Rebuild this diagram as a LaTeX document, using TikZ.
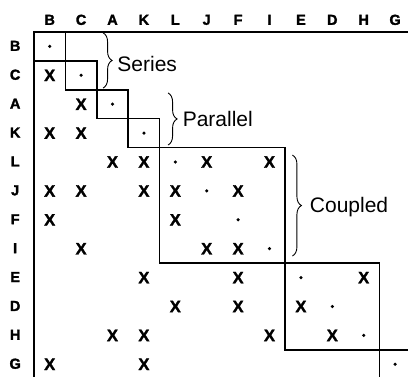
\documentclass[tikz,border=0pt]{standalone}
\usepackage{fontspec}
\setmainfont{Liberation Sans}
\newfontfamily\heavyfont[BoldFont={Liberation Sans Bold}, BoldFeatures={FakeBold=1.8}]{Liberation Sans}
\usetikzlibrary{decorations.pathreplacing}

\begin{document}
\begin{tikzpicture}[x=31.4pt, y=28.9pt,
    hdr/.style={font=\heavyfont\fontsize{14.5}{16}\selectfont\bfseries, inner sep=0pt},
    xmark/.style={font=\heavyfont\fontsize{16.5}{18}\selectfont\bfseries, inner sep=0pt},
    diagdot/.style={circle, fill=black, inner sep=0pt, minimum size=3.5pt},
    blk/.style={line width=1.6pt},
    tag/.style={font=\fontsize{21}{25}\selectfont, anchor=west, inner sep=1pt},
    brace/.style={decorate, decoration={brace, amplitude=9pt}, line width=0.9pt}]

\useasboundingbox (-1.083, 1.107) rectangle (11.911, -11.938);

% ── Row and column labels ──
\foreach \name [count=\i] in {B,C,A,K,L,J,F,I,E,D,H,G} {
    \node[hdr] (col-\name) at ({\i-0.5}, 0.42) {\name};
    \node[hdr] (row-\name) at (-0.6, {0.52-\i}) {\name};
}

% ── Frame ──
\draw[line width=2.6pt] (0, -12.2) -- (0, 0) -- (12.2, 0);

% ── Diagonal ──
\foreach \i in {1,...,12} {
    \node[diagdot] (d-\i) at ({\i-0.5}, {0.5-\i}) {};
}

% ── Dependencies (row/column) ──
\foreach \r/\c in {2/1, 3/2, 4/1, 4/2, 5/3, 5/4, 5/6, 5/8,
                   6/1, 6/2, 6/4, 6/5, 6/7, 7/1, 7/5, 8/2, 8/6, 8/7,
                   9/4, 9/7, 9/11, 10/5, 10/7, 10/9,
                   11/3, 11/4, 11/8, 11/10, 12/1, 12/4} {
    \node[xmark] (x-\r-\c) at ({\c-0.5}, {0.5-\r}) {X};
}

% ── Blocks ──
\draw[blk] (0, 0) rectangle (1, -1);   % B
\draw[blk] (1, -1) rectangle (2, -2);  % C
\draw[blk] (2, -2) rectangle (3, -3);  % A
\draw[blk] (3, -3) rectangle (4, -4);  % K
\draw[blk] (4, -4) rectangle (8, -8);  % L J F I
\draw[blk] (8, -8) rectangle (11, -11); % E D H
\draw[blk] (11, -11) rectangle (12, -12); % G

% ── Braces ──
\draw[brace] (2.2, -0.03) -- (2.2, -1.94);
\node[tag] (series) at (2.62, -1.12) {Series};

\draw[brace] (4.27, -2.11) -- (4.27, -3.91);
\node[tag] (parallel) at (4.7, -3.02) {Parallel};

\draw[brace] (8.23, -4.26) -- (8.23, -7.75);
\node[tag] (coupled) at (8.75, -6.05) {Coupled};

\end{tikzpicture}
\end{document}
